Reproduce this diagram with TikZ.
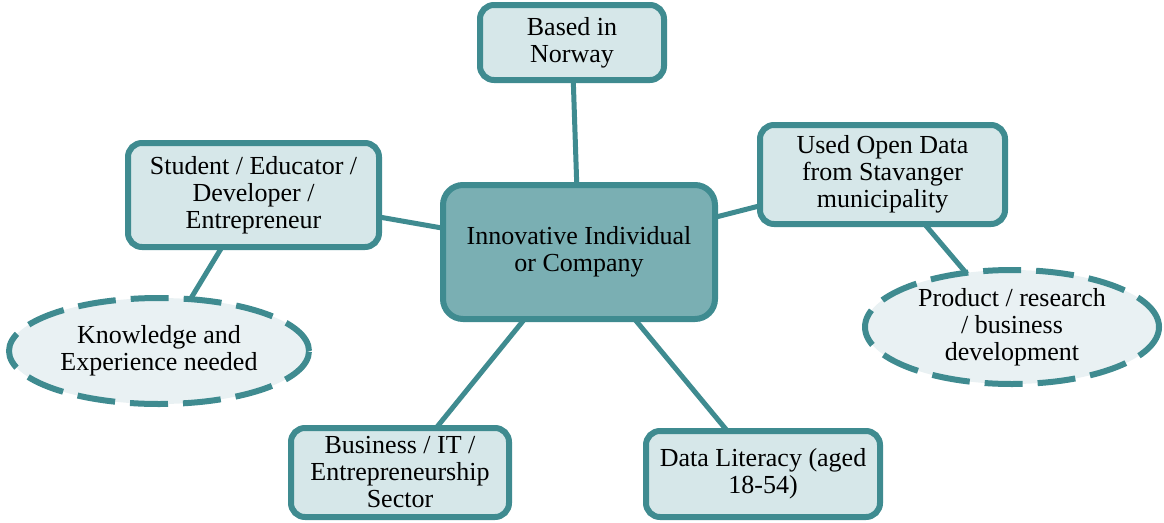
\documentclass[tikz,border=0pt]{standalone}
\usepackage{fontspec}
\setmainfont{Liberation Serif}
\usetikzlibrary{shapes.geometric,backgrounds}
\definecolor{tealb}{HTML}{3F8B90}
\definecolor{boxfill}{HTML}{D6E7E9}
\definecolor{hubfill}{HTML}{7AAFB3}
\definecolor{ellfill}{HTML}{E9F1F3}
\begin{document}
\begin{tikzpicture}[x=1pt,y=-1pt,
  every node/.style={font=\fontsize{26}{27}\selectfont, align=center, inner sep=0pt},
  leaf/.style={draw=tealb, line width=6pt, fill=boxfill, rounded corners=14pt},
  hub/.style={draw=tealb, line width=6pt, fill=hubfill, rounded corners=20pt},
  cloud/.style={ellipse, draw=tealb, line width=6pt, fill=ellfill, dash pattern=on 38pt off 15pt},
  link/.style={draw=tealb, line width=5pt}]
\useasboundingbox (0,0) rectangle (1164,522);
\node[hub, minimum width=272pt, minimum height=134pt] (hub) at (579,252) {Innovative Individual\\or Company};
\node[leaf, minimum width=184pt, minimum height=75pt] (top) at (572,42.5) {Based in\\Norway};
\node[leaf, minimum width=251pt, minimum height=104pt] (left) at (253.5,195) {Student / Educator /\\Developer /\\Entrepreneur};
\node[leaf, minimum width=245pt, minimum height=99pt] (right) at (882.5,174.5) {Used Open Data\\from Stavanger\\municipality};
\node[leaf, minimum width=218pt, minimum height=89pt] (bl) at (400,472.5) {Business / IT /\\Entrepreneurship\\Sector};
\node[leaf, minimum width=234pt, minimum height=86pt] (br) at (763,474) {Data Literacy (aged\\18-54)};
\node[cloud, minimum width=300pt, minimum height=106pt] (know) at (159,351) {Knowledge and\\Experience needed};
\node[cloud, minimum width=294pt, minimum height=114pt] (prod) at (1012,327) {Product / research\\/ business\\development};
\begin{scope}[on background layer]
\draw[link] (hub.center) -- (top.center);
\draw[link] (hub.center) -- (left.center);
\draw[link] (hub.center) -- (right.center);
\draw[link] (hub.center) -- (bl.center);
\draw[link] (hub.center) -- (br.center);
\draw[link] (left.center) -- (know.center);
\draw[link] (right.center) -- (prod.center);
\end{scope}
\end{tikzpicture}
\end{document}
